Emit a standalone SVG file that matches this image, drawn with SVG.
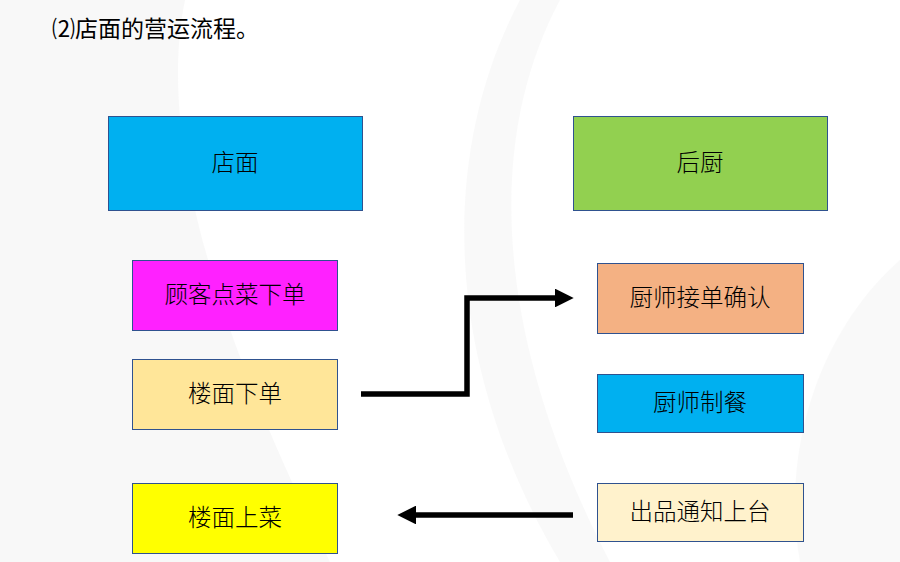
<svg xmlns="http://www.w3.org/2000/svg" width="900" height="562" viewBox="0 0 900 562">
<style>
.box{stroke:#2F528F;stroke-width:1}
.lbl{font-family:"Noto Sans CJK SC","Noto Sans CJK JP",sans-serif;font-size:23.5px;font-weight:300;fill:#000;text-anchor:middle}
.title{font-family:"Noto Sans CJK SC","Noto Sans CJK JP",sans-serif;font-size:23px;font-weight:400;fill:#000}
.conn{fill:none;stroke:#000;stroke-width:5.5}
</style>
<defs>
<marker id="ah" viewBox="0 0 10 10" refX="0" refY="5" markerWidth="3.4" markerHeight="3.4" markerUnits="strokeWidth" orient="auto">
<path d="M0,0 L10,5 L0,10 Z" fill="#000"/>
</marker>
</defs>
<rect width="900" height="562" fill="#ffffff"/>
<g id="background">
<path d="M0,0 L185,0 C160,120 200,300 330,562 L0,562 Z" fill="#f2f2f2" opacity="0.5"/>
<path d="M560,0 C480,150 500,350 610,562 L560,562 C440,360 440,150 520,0 Z" fill="#f0f0f0" opacity="0.4"/>
<path d="M900,260 C820,330 780,450 800,562 L900,562 Z" fill="#f4f4f4" opacity="0.5"/>
</g>
<g id="title"><text class="title" x="52" y="37">⑵店面的营运流程。</text></g>
<g id="n-dianmian"><rect class="box" x="108.5" y="116.5" width="254" height="94" fill="#00B0F0"/><text class="lbl" x="235" y="171">店面</text></g>
<g id="n-houchu"><rect class="box" x="573.5" y="116.5" width="254" height="94" fill="#92D050"/><text class="lbl" x="700" y="171">后厨</text></g>
<g id="n-guke"><rect class="box" x="132.5" y="260.5" width="205" height="70" fill="#FF21FF"/><text class="lbl" x="235" y="303">顾客点菜下单</text></g>
<g id="n-loumianxiadan"><rect class="box" x="132.5" y="359.5" width="205" height="70" fill="#FFE699"/><text class="lbl" x="235" y="402">楼面下单</text></g>
<g id="n-loumianshangcai"><rect class="box" x="132.5" y="483.5" width="205" height="70" fill="#FFFF00"/><text class="lbl" x="235" y="526">楼面上菜</text></g>
<g id="n-jiedan"><rect class="box" x="597.5" y="263.5" width="206" height="70" fill="#F4B183"/><text class="lbl" x="700" y="306">厨师接单确认</text></g>
<g id="n-zhican"><rect class="box" x="597.5" y="374.5" width="206" height="58" fill="#00B0F0"/><text class="lbl" x="700" y="411">厨师制餐</text></g>
<g id="n-chupin"><rect class="box" x="597.5" y="483.5" width="206" height="58" fill="#FFF2CC"/><text class="lbl" x="700" y="520">出品通知上台</text></g>
<g id="connectors">
<path class="conn" d="M361,394 L467,394 L467,298 L555,298" marker-end="url(#ah)"/>
<path class="conn" d="M573,515 L416,515" marker-end="url(#ah)"/>
</g>
</svg>
